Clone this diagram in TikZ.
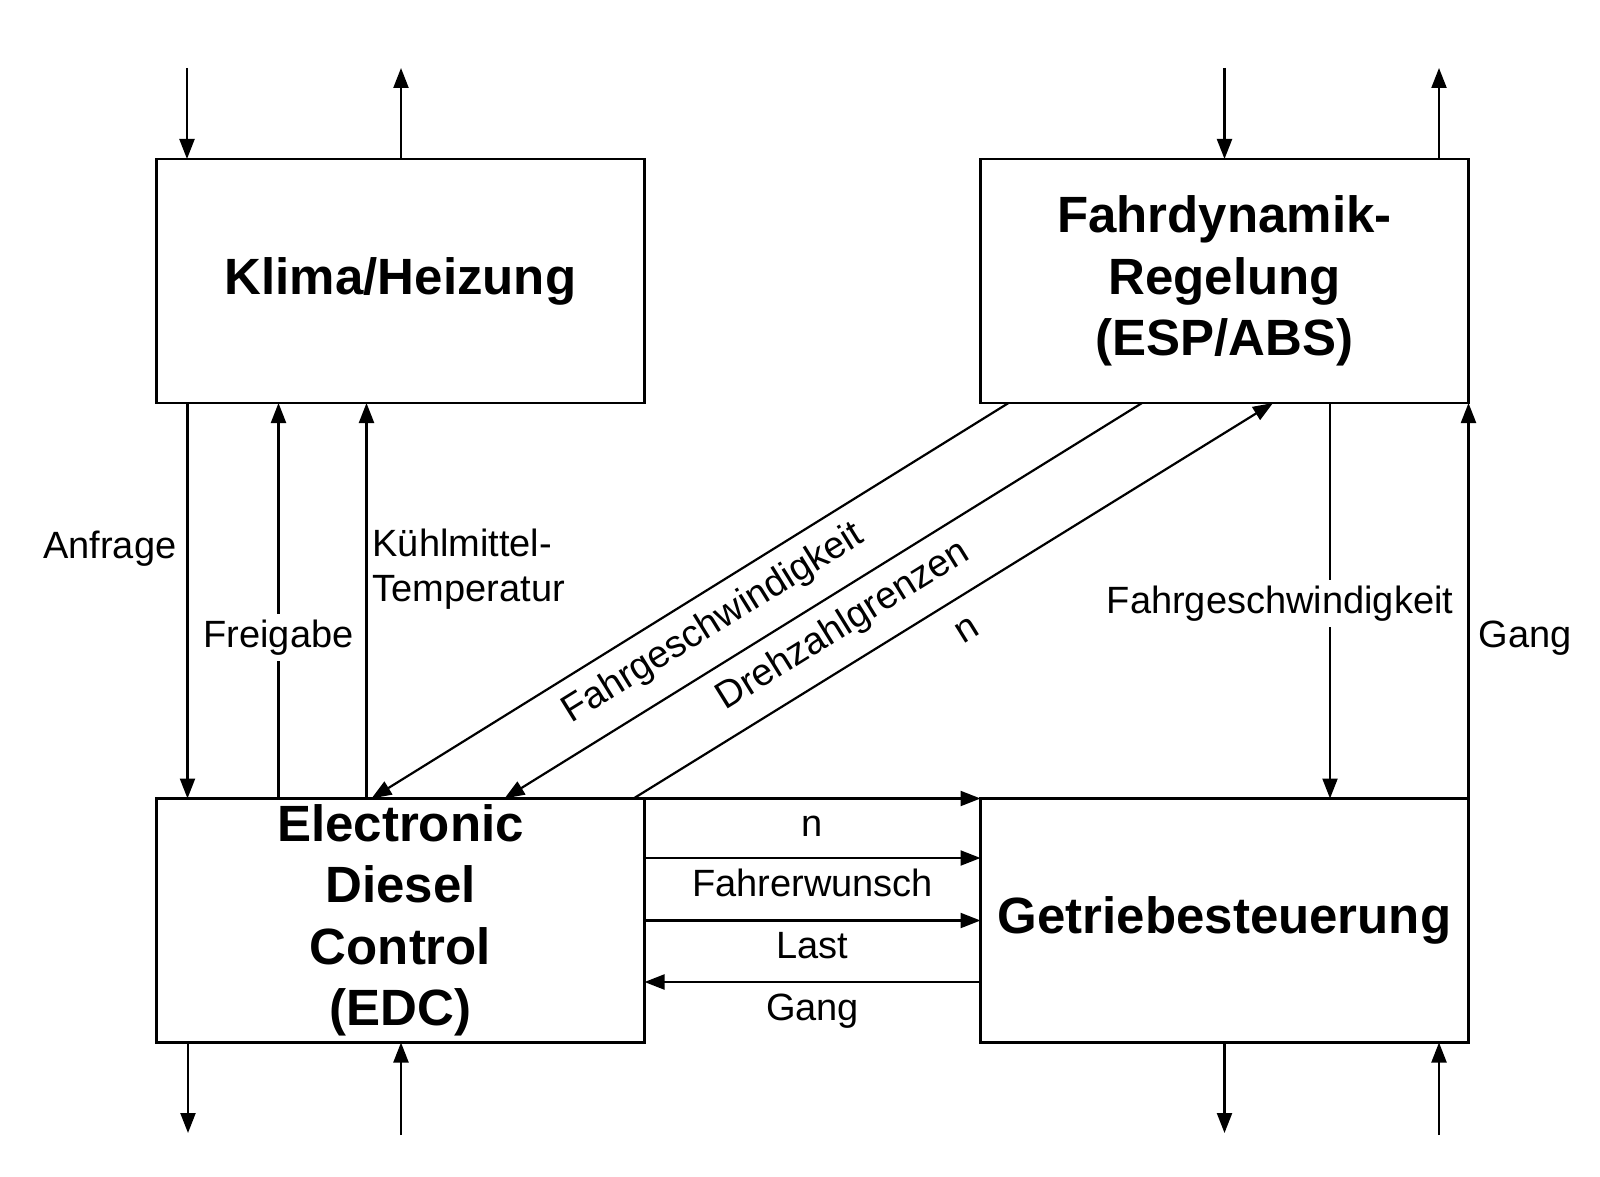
\documentclass[tikz,border=0pt]{standalone}
\usepackage{fontspec}
\setmainfont{Liberation Sans}
\usetikzlibrary{arrows.meta,calc}
\begin{document}
\begin{tikzpicture}[x=0.5pt,y=-0.5pt,
  box/.style={draw, line width=1.1pt, minimum width=244pt, minimum height=122pt,
    inner sep=0pt, outer sep=0pt, align=center,
    font=\fontsize{25.5}{30.7}\selectfont\bfseries},
  arr/.style={line width=1.1pt, -{Triangle[length=10pt,width=7.5pt]}},
  lbl/.style={font=\fontsize{19}{22.5}\selectfont, inner sep=2.5pt, text height=14.2pt, text depth=4.2pt},
  lbltwo/.style={font=\fontsize{19}{22.5}\selectfont, inner sep=2.5pt, align=left},
  blw/.style={lbl, below, inner ysep=6.3pt},
  hblw/.style={lbl, below, inner ysep=4.3pt},
]
\useasboundingbox (0,0) rectangle (1600,1177);

% boxes
\node[box] (K) at (400.5,281) {Klima/Heizung};
\node[box] (F) at (1224.5,281) {Fahrdynamik-\\Regelung\\(ESP/ABS)};
\node[box] (E) at (400.5,920.5) {Electronic\\Diesel\\Control\\(EDC)};
\node[box] (G) at (1224.5,920.5) {Getriebesteuerung};

% free ends of external arrows
\coordinate (kin) at (187,68);
\coordinate (kout) at (401,68);
\coordinate (fin) at (1224.5,68);
\coordinate (fout) at (1439,68);
\coordinate (eout) at (188,1133);
\coordinate (ein) at (401,1135);
\coordinate (gout) at (1224.5,1133);
\coordinate (gin) at (1439,1135);

\draw[arr] (kin) -- (K.north -| kin);
\draw[arr] (K.north -| kout) -- (kout);
\draw[arr] (fin) -- (F.north);
\draw[arr] (F.north -| fout) -- (fout);
\draw[arr] (E.south -| eout) -- (eout);
\draw[arr] (ein) -- (E.south -| ein);
\draw[arr] (G.south) -- (gout);
\draw[arr] (gin) -- (G.south -| gin);

% Klima <-> EDC
\draw[arr] ($(K.south west)+(31,0)$) -- ($(E.north west)+(31,0)$)
  node[lbl, pos=0.369, left=2.5pt] {Anfrage};
\draw[arr] ($(E.north west)+(122,0)$) -- ($(K.south west)+(122,0)$)
  node[lbl, pos=0.408, fill=white] {Freigabe};
\draw[arr] ($(E.north west)+(210,0)$) -- ($(K.south west)+(210,0)$)
  node[lbltwo, pos=0.58, right] {Kühlmittel-\\Temperatur};

% diagonals
\draw[arr] ($(F.south west)+(28,0)$) -- ($(E.north west)+(215,0)$)
  node[blw, pos=0.49, sloped] {Fahrgeschwindigkeit};
\draw[arr] ($(F.south west)+(161.5,0)$) -- ($(E.north west)+(348,0)$)
  node[blw, pos=0.495, sloped] {Drehzahlgrenzen};
\draw[arr] ($(E.north west)+(477,0)$) -- ($(F.south west)+(292.5,0)$)
  node[blw, pos=0.495, sloped] {n};

% Fahrdynamik <-> Getriebe
\draw[arr] ($(F.south west)+(349.5,0)$) -- ($(G.north west)+(349.5,0)$)
  node[lbl, pos=0.506, fill=white, xshift=-25pt] {Fahrgeschwindigkeit};
\draw[arr] (G.north east) -- (F.south east)
  node[lbl, pos=0.408, right=2pt] {Gang};

% EDC <-> Getriebe
\draw[arr] (E.north east) -- (G.north west) node[hblw, midway] {n};
\draw[arr] ($(E.north east)+(0,59.5)$) -- ($(G.north west)+(0,59.5)$)
  node[hblw, midway] {Fahrerwunsch};
\draw[arr] (E.east) -- (G.west) node[hblw, midway] {Last};
\draw[arr] ($(G.north west)+(0,183.5)$) -- ($(E.north east)+(0,183.5)$)
  node[hblw, midway] {Gang};
\end{tikzpicture}
\end{document}
